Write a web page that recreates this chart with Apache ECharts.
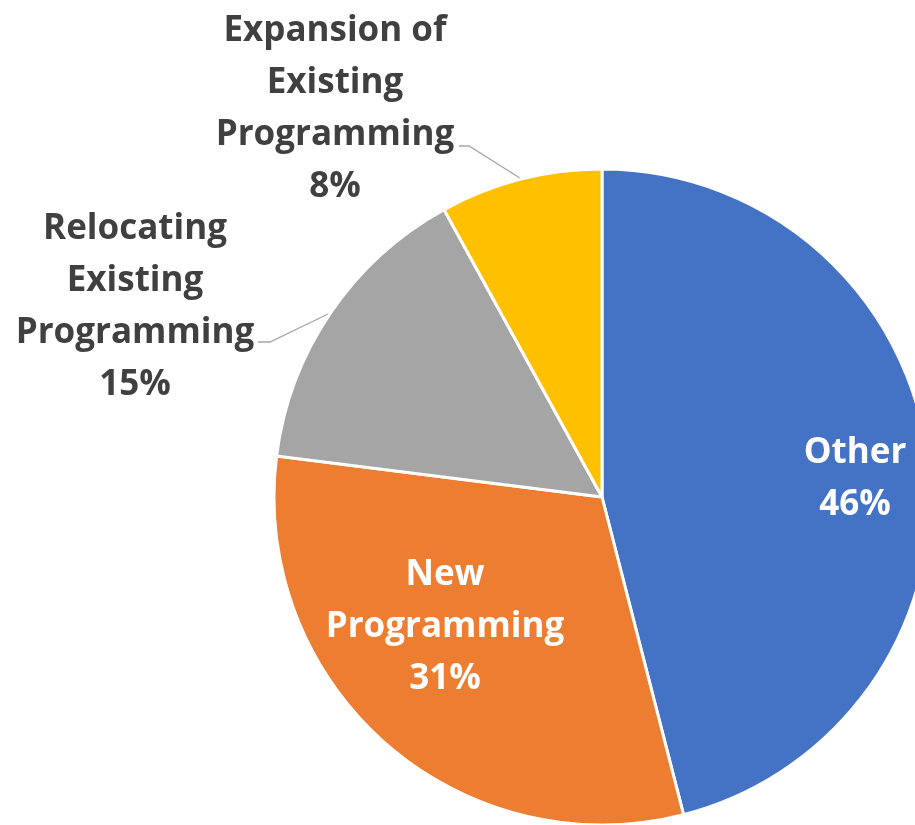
<!DOCTYPE html>
<html>
<head>
<meta charset="utf-8">
<script src="https://cdn.jsdelivr.net/npm/echarts@6/dist/echarts.min.js"></script>
<style>
  html, body { margin: 0; padding: 0; background: #fff; }
  #chart { width: 915px; height: 825px; }
</style>
</head>
<body>
<div id="chart"></div>
<script>
// Share of programming by type (percent)
const categories = ['Other', 'New\nProgramming', 'Relocating\nExisting\nProgramming', 'Expansion of\nExisting\nProgramming'];
const shares = [46, 31, 15, 8];
const colors = ['#4472C4', '#ED7D31', '#A5A5A5', '#FFC000'];
const labelColors = ['#FFFFFF', '#FFFFFF', '#404040', '#404040'];

// label anchor points (centre of each text block)
const labelSpots = [[855, 479], [445, 627], [135, 307], [335, 109]];
// leader lines for the outside labels: pie edge -> elbow -> text
const leaderLines = [null, null,
  [[330, 313], [270, 342], [258, 342]],
  [[523, 180], [469, 146], [459, 146]]
];

const chart = echarts.init(document.getElementById('chart'), null, { renderer: 'canvas' });

chart.setOption({
  animation: false,
  backgroundColor: '#FFFFFF',
  series: [{
    type: 'pie',
    center: [602, 497],
    radius: [0, 328],
    startAngle: 90,
    clockwise: true,
    avoidLabelOverlap: false,
    itemStyle: { borderColor: '#FFFFFF', borderWidth: 3 },
    label: {
      show: true,
      position: 'outside',
      formatter: p => p.name + '\n' + p.value + '%',
      fontFamily: 'Open Sans',
      fontWeight: 'bold',
      fontSize: 35,
      lineHeight: 52,
      align: 'center'
    },
    labelLine: {
      show: true,
      lineStyle: { color: '#A6A6A6', width: 1.3 }
    },
    labelLayout: p => {
      const out = {
        x: labelSpots[p.dataIndex][0],
        y: labelSpots[p.dataIndex][1],
        align: 'center',
        verticalAlign: 'middle'
      };
      if (leaderLines[p.dataIndex]) out.labelLinePoints = leaderLines[p.dataIndex];
      return out;
    },
    data: categories.map((name, i) => ({
      name,
      value: shares[i],
      itemStyle: { color: colors[i] },
      label: { color: labelColors[i] },
      labelLine: { show: i >= 2 }
    }))
  }]
});
</script>
</body>
</html>
